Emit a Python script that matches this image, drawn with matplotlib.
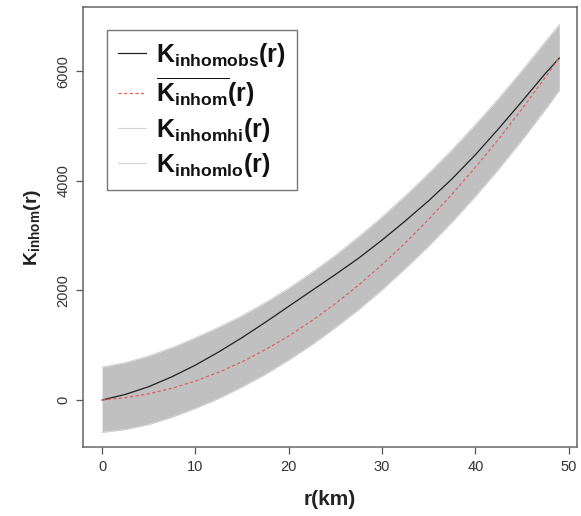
import numpy as np
import matplotlib
matplotlib.use("Agg")
from matplotlib import pyplot as plt

plt.rcParams['font.family'] = ['Liberation Sans', 'DejaVu Sans']
plt.rcParams['mathtext.fontset'] = 'custom'
plt.rcParams['mathtext.rm'] = 'Liberation Sans:bold'
plt.rcParams['mathtext.sf'] = 'Liberation Sans:bold'
plt.rcParams['mathtext.it'] = 'Liberation Sans:bold'
plt.rcParams['mathtext.bf'] = 'Liberation Sans:bold'

# distance (km)
r = [0, 2.5, 5, 7.5, 10, 12.5, 15, 17.5, 20, 22.5, 25, 27.5, 30, 32.5, 35, 37.5, 40, 42.5, 45, 47.5, 49]
# observed K
k_obs = [0, 102, 243, 425, 636, 877, 1138, 1418, 1709, 1999, 2289, 2589, 2918, 3268, 3636, 4035, 4474, 4952, 5450, 5958, 6240]
# theoretical (mean) K
k_theo = [0, 42, 113, 215, 346, 507, 698, 918, 1169, 1449, 1759, 2099, 2468, 2868, 3296, 3755, 4244, 4762, 5310, 5888, 6250]
# envelope
k_hi = [600, 682, 803, 955, 1136, 1327, 1538, 1778, 2039, 2329, 2639, 2979, 3338, 3728, 4136, 4565, 5024, 5502, 6010, 6538, 6850]
k_lo = [-590, -538, -447, -315, -154, 27, 238, 468, 729, 1009, 1319, 1649, 2008, 2398, 2806, 3245, 3714, 4212, 4740, 5298, 5650]

fig = plt.figure(figsize=(5.81, 5.16), dpi=100)
ax = fig.add_axes([0.1429, 0.1337, 0.8503, 0.8527])

band = '#c0c0c0'
ax.fill_between(r, k_lo, k_hi, color=band, lw=0)
l_hi, = ax.plot(r, k_hi, color='#d4d4d4', lw=0.8)
l_lo, = ax.plot(r, k_lo, color='#d4d4d4', lw=0.8)
l_obs, = ax.plot(r, k_obs, color='#222222', lw=0.9)
l_theo, = ax.plot(r, k_theo, color='#e06060', lw=0.9, ls=(0, (2.5, 2)))

ax.set_xlim(-2.04, 50.9)
ax.set_ylim(-858, 7171)
ax.set_xticks([0, 10, 20, 30, 40, 50])
ax.set_yticks([0, 2000, 4000, 6000])
ax.tick_params(direction='out', length=5, width=0.9, color='#555555',
               labelsize=10.5, labelcolor='#333333', pad=4)
for t in ax.get_yticklabels():
    t.set_rotation(90)
    t.set_va('center')
for s in ax.spines.values():
    s.set_color('#666666')
    s.set_linewidth(1.1)

ax.set_xlabel('r(km)', fontsize=15, fontweight='bold', color='#222222', labelpad=12)
ax.set_ylabel(r'K$_{\mathrm{inhom}}$(r)', fontsize=14, fontweight='bold', color='#222222', labelpad=10)

labels = [r'K$_{\mathrm{inhomobs}}$(r)',
          r'$\overline{\mathrm{K}_{\mathrm{inhom}}}$(r)',
          r'K$_{\mathrm{inhomhi}}$(r)',
          r'K$_{\mathrm{inhomlo}}$(r)']
leg = ax.legend([l_obs, l_theo, l_hi, l_lo], labels, loc='upper left',
                bbox_to_anchor=(0.0486, 0.948), borderaxespad=0,
                prop={'size': 18, 'weight': 'bold'},
                fancybox=False, framealpha=1, edgecolor='#777777',
                handlelength=1.1, handletextpad=0.4, labelspacing=0.27,
                borderpad=0.45)
for t in leg.get_texts():
    t.set_color('#111111')
leg.get_frame().set_linewidth(1.0)

fig.savefig('out.png', dpi=100)
